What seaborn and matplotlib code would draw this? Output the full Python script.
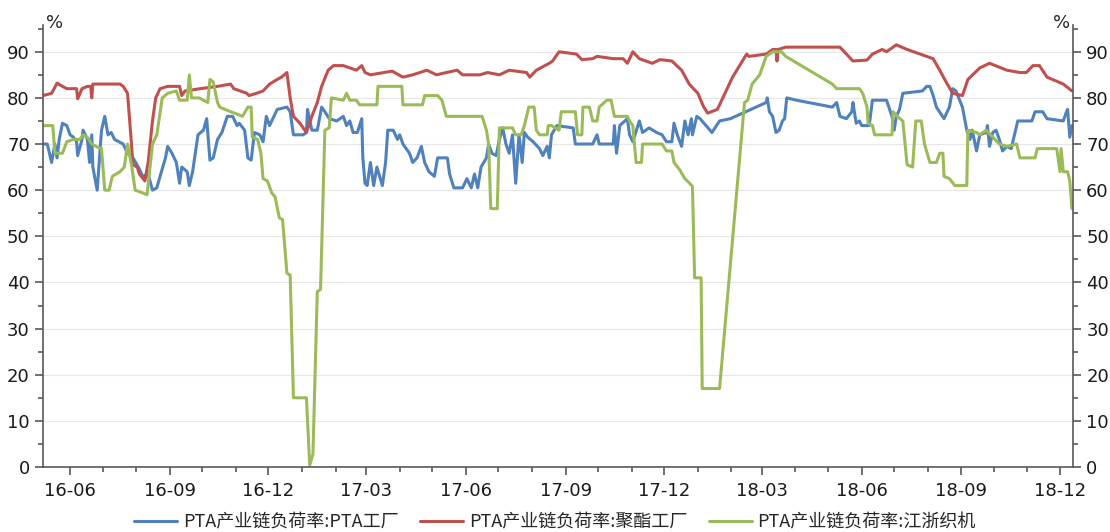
import pandas as pd
import matplotlib
matplotlib.use('Agg')
import matplotlib.pyplot as plt
import matplotlib.dates as mdates
from matplotlib.ticker import MultipleLocator
import seaborn as sns

# 聚酯工厂
red_dates = ['2016-05-07', '2016-05-15', '2016-05-20', '2016-05-25', '2016-05-29', '2016-06-07', '2016-06-08',
             '2016-06-12', '2016-06-17', '2016-06-20', '2016-06-21', '2016-06-22', '2016-06-29', '2016-07-17',
             '2016-07-20', '2016-07-24', '2016-07-27', '2016-07-29', '2016-08-02', '2016-08-04', '2016-08-09',
             '2016-08-12', '2016-08-16', '2016-08-19', '2016-08-23', '2016-08-30', '2016-09-10', '2016-09-12',
             '2016-09-15', '2016-09-29', '2016-10-15', '2016-10-27', '2016-10-30', '2016-11-11', '2016-11-13',
             '2016-11-20', '2016-11-26', '2016-12-02', '2016-12-09', '2016-12-13', '2016-12-18', '2016-12-21',
             '2016-12-24', '2016-12-30', '2017-01-05', '2017-01-10', '2017-01-15', '2017-01-19', '2017-01-25',
             '2017-01-30', '2017-02-08', '2017-02-14', '2017-02-20', '2017-02-25', '2017-02-28', '2017-03-05',
             '2017-03-25', '2017-04-04', '2017-04-13', '2017-04-26', '2017-05-05', '2017-05-14', '2017-05-24',
             '2017-05-29', '2017-06-14', '2017-06-21', '2017-07-02', '2017-07-11', '2017-07-27', '2017-07-30',
             '2017-08-05', '2017-08-17', '2017-08-20', '2017-08-26', '2017-09-11', '2017-09-16', '2017-09-26',
             '2017-09-30', '2017-10-15', '2017-10-24', '2017-10-28', '2017-11-02', '2017-11-08', '2017-11-20',
             '2017-11-27', '2017-12-08', '2017-12-17', '2017-12-24', '2018-01-01', '2018-01-06', '2018-01-10',
             '2018-01-19', '2018-01-24', '2018-01-31', '2018-02-02', '2018-02-15', '2018-02-17', '2018-03-05',
             '2018-03-11', '2018-03-14', '2018-03-15', '2018-03-16', '2018-03-23', '2018-05-12', '2018-05-18',
             '2018-05-24', '2018-06-06', '2018-06-11', '2018-06-20', '2018-06-24', '2018-07-03', '2018-07-13',
             '2018-07-25', '2018-08-06', '2018-08-12', '2018-08-19', '2018-08-24', '2018-09-02', '2018-09-07',
             '2018-09-18', '2018-09-27', '2018-10-13', '2018-10-25', '2018-10-31', '2018-11-06', '2018-11-12',
             '2018-11-19', '2018-11-24', '2018-12-04', '2018-12-12']
red_vals = [80.5, 81, 83.2, 82.5, 82, 82, 79.8,
            82, 82.5, 82.5, 80, 83, 83, 83,
            82.5, 81, 72, 65.5, 65, 63.5, 62,
            66, 75, 80, 82, 82.5, 82.5, 80.5,
            81.5, 82, 82.5, 83, 82, 81, 80.5,
            81, 81.5, 83, 84, 84.5, 85.5, 80,
            76, 74.5, 72.5, 76, 79, 82.5, 86,
            87, 87, 86.5, 86, 87, 85.5, 85,
            85.8, 84.5, 85, 86, 85, 85.5, 86,
            85, 85, 85.5, 85, 86, 85.5, 84.5,
            86, 87.5, 88, 90, 89.5, 88.3, 88.5,
            89, 88.5, 88.5, 87.5, 90, 88.5, 87.5,
            88.3, 88, 86, 83, 81, 78.2, 76.7,
            77.5, 80, 83.5, 84.5, 89.5, 89, 89.5,
            90.5, 90.5, 88, 90.5, 91, 91, 89.5,
            88, 88.2, 89.5, 90.5, 90, 91.5, 90.5,
            89.5, 88.5, 86, 83, 81, 80.5, 84,
            86.5, 87.5, 86, 85.5, 85.5, 87, 87,
            84.5, 84, 83, 81.5]

# PTA工厂
blue_dates = ['2016-05-07', '2016-05-11', '2016-05-15', '2016-05-18', '2016-05-20', '2016-05-22', '2016-05-25',
              '2016-05-29', '2016-06-01', '2016-06-04', '2016-06-07', '2016-06-08', '2016-06-12', '2016-06-13',
              '2016-06-17', '2016-06-19', '2016-06-21', '2016-06-22', '2016-06-26', '2016-06-30', '2016-07-03',
              '2016-07-06', '2016-07-09', '2016-07-12', '2016-07-20', '2016-07-24', '2016-07-29', '2016-08-03',
              '2016-08-07', '2016-08-12', '2016-08-16', '2016-08-20', '2016-08-23', '2016-08-28', '2016-08-30',
              '2016-09-03', '2016-09-07', '2016-09-10', '2016-09-12', '2016-09-17', '2016-09-19', '2016-09-22',
              '2016-09-27', '2016-10-02', '2016-10-05', '2016-10-08', '2016-10-11', '2016-10-15', '2016-10-19',
              '2016-10-24', '2016-10-29', '2016-11-02', '2016-11-04', '2016-11-09', '2016-11-12', '2016-11-15',
              '2016-11-18', '2016-11-23', '2016-11-26', '2016-11-29', '2016-12-02', '2016-12-05', '2016-12-09',
              '2016-12-18', '2016-12-21', '2016-12-24', '2017-01-02', '2017-01-05', '2017-01-06', '2017-01-10',
              '2017-01-15', '2017-01-19', '2017-01-22', '2017-01-26', '2017-02-02', '2017-02-08', '2017-02-11',
              '2017-02-14', '2017-02-17', '2017-02-21', '2017-02-25', '2017-02-26', '2017-02-28', '2017-03-02',
              '2017-03-05', '2017-03-08', '2017-03-11', '2017-03-16', '2017-03-19', '2017-03-21', '2017-03-26',
              '2017-03-30', '2017-04-01', '2017-04-04', '2017-04-10', '2017-04-13', '2017-04-17', '2017-04-21',
              '2017-04-24', '2017-04-28', '2017-05-03', '2017-05-06', '2017-05-15', '2017-05-17', '2017-05-21',
              '2017-05-29', '2017-06-02', '2017-06-06', '2017-06-09', '2017-06-12', '2017-06-15', '2017-06-20',
              '2017-06-22', '2017-06-25', '2017-06-29', '2017-07-02', '2017-07-05', '2017-07-08', '2017-07-11',
              '2017-07-14', '2017-07-17', '2017-07-20', '2017-07-23', '2017-07-25', '2017-07-28', '2017-08-02',
              '2017-08-08', '2017-08-11', '2017-08-15', '2017-08-17', '2017-08-19', '2017-08-24', '2017-09-08',
              '2017-09-10', '2017-09-26', '2017-09-30', '2017-10-02', '2017-10-15', '2017-10-16', '2017-10-18',
              '2017-10-21', '2017-10-28', '2017-10-30', '2017-11-02', '2017-11-08', '2017-11-11', '2017-11-17',
              '2017-11-24', '2017-11-29', '2017-12-03', '2017-12-08', '2017-12-10', '2017-12-13', '2017-12-17',
              '2017-12-20', '2017-12-23', '2017-12-26', '2017-12-27', '2017-12-31', '2018-01-03', '2018-01-14',
              '2018-01-21', '2018-01-31', '2018-03-05', '2018-03-06', '2018-03-08', '2018-03-11', '2018-03-14',
              '2018-03-17', '2018-03-20', '2018-03-22', '2018-03-24', '2018-04-02', '2018-05-05', '2018-05-09',
              '2018-05-12', '2018-05-18', '2018-05-23', '2018-05-24', '2018-05-27', '2018-05-30', '2018-06-01',
              '2018-06-08', '2018-06-11', '2018-06-24', '2018-06-29', '2018-07-01', '2018-07-03', '2018-07-06',
              '2018-07-09', '2018-07-27', '2018-07-31', '2018-08-03', '2018-08-06', '2018-08-09', '2018-08-16',
              '2018-08-21', '2018-08-24', '2018-08-27', '2018-09-02', '2018-09-06', '2018-09-09', '2018-09-11',
              '2018-09-15', '2018-09-18', '2018-09-24', '2018-09-25', '2018-09-27', '2018-09-30', '2018-10-03',
              '2018-10-06', '2018-10-09', '2018-10-13', '2018-10-17', '2018-10-20', '2018-10-23', '2018-11-05',
              '2018-11-08', '2018-11-15', '2018-11-19', '2018-12-04', '2018-12-07', '2018-12-08', '2018-12-10',
              '2018-12-12']
blue_vals = [70, 70, 66, 70, 67, 71, 74.5,
             74, 72, 71.5, 70.5, 67.5, 71, 73,
             71, 66, 72, 65, 60, 73, 76,
             72, 72.5, 71, 70, 68, 67, 65,
             63, 63.5, 60, 60.5, 63, 67, 69.5,
             68, 66, 61.5, 65, 64, 61, 64,
             72, 73, 75.5, 66.5, 67, 71, 72.5,
             76, 76, 74, 74.5, 73, 67, 66.5,
             72.5, 72, 70.5, 76, 74, 75.5, 77.5,
             78, 77, 72, 72, 72.5, 77.5, 73,
             73, 78, 77, 75.5, 75, 76, 74,
             75, 72.5, 72.5, 75.5, 67, 61.5, 61,
             66, 61, 65, 61, 66, 73, 73,
             71, 72, 70, 68, 66, 67, 69.5,
             66, 64, 63, 67, 67, 63.5, 60.5,
             60.5, 62.5, 60.5, 63.5, 60.5, 65, 67,
             70, 68, 67.5, 71, 73.5, 70, 68,
             72, 61.5, 72, 66, 72.5, 71.5, 70.5,
             69, 67.5, 69.5, 67, 72, 74, 73.5,
             70, 70, 72, 70, 70, 74, 68,
             74, 75.5, 72, 70.5, 75, 72.5, 73.5,
             72.5, 72, 70.5, 70.5, 74.5, 72, 69.5,
             75, 72, 75.5, 72, 76, 75.5, 72.5,
             75, 75.5, 79, 80, 77, 76, 72.5,
             73, 75, 75.5, 80, 79.5, 78, 79,
             76, 75.5, 77, 79, 74.5, 75, 74,
             74, 79.5, 79.5, 76, 73, 76, 77.5,
             81, 81.5, 82.5, 82.5, 80.5, 78, 75.5,
             78, 82, 81.5, 78, 73, 71, 73,
             68.5, 72, 72.5, 74, 69.5, 72.5, 73,
             71, 68.5, 69.5, 69, 72, 75, 75,
             77, 77, 75.5, 75, 77, 77.5, 71.5,
             74]

# 江浙织机
green_dates = ['2016-05-07', '2016-05-16', '2016-05-18', '2016-05-25', '2016-05-29', '2016-06-04', '2016-06-10',
               '2016-06-13', '2016-06-17', '2016-06-21', '2016-06-29', '2016-06-30', '2016-07-03', '2016-07-07',
               '2016-07-10', '2016-07-17', '2016-07-21', '2016-07-24', '2016-07-28', '2016-07-31', '2016-08-06',
               '2016-08-11', '2016-08-16', '2016-08-20', '2016-08-25', '2016-08-30', '2016-09-07', '2016-09-10',
               '2016-09-17', '2016-09-19', '2016-09-21', '2016-09-28', '2016-10-06', '2016-10-08', '2016-10-11',
               '2016-10-15', '2016-10-17', '2016-10-27', '2016-11-02', '2016-11-07', '2016-11-12', '2016-11-15',
               '2016-11-16', '2016-11-21', '2016-11-24', '2016-11-26', '2016-11-30', '2016-12-04', '2016-12-07',
               '2016-12-11', '2016-12-14', '2016-12-18', '2016-12-21', '2016-12-24', '2017-01-05', '2017-01-08',
               '2017-01-11', '2017-01-15', '2017-01-18', '2017-01-22', '2017-01-26', '2017-01-28', '2017-02-08',
               '2017-02-11', '2017-02-14', '2017-02-20', '2017-02-23', '2017-03-11', '2017-03-12', '2017-04-03',
               '2017-04-04', '2017-04-22', '2017-04-24', '2017-05-06', '2017-05-10', '2017-05-14', '2017-06-16',
               '2017-06-20', '2017-06-22', '2017-06-24', '2017-06-30', '2017-07-02', '2017-07-14', '2017-07-17',
               '2017-07-22', '2017-07-25', '2017-07-29', '2017-08-03', '2017-08-05', '2017-08-08', '2017-08-15',
               '2017-08-16', '2017-08-19', '2017-08-26', '2017-08-28', '2017-09-10', '2017-09-12', '2017-09-16',
               '2017-09-17', '2017-09-23', '2017-09-26', '2017-09-30', '2017-10-02', '2017-10-09', '2017-10-13',
               '2017-10-16', '2017-10-28', '2017-10-30', '2017-11-02', '2017-11-05', '2017-11-10', '2017-11-11',
               '2017-11-29', '2017-12-03', '2017-12-08', '2017-12-10', '2017-12-15', '2017-12-20', '2017-12-24',
               '2017-12-27', '2017-12-29', '2018-01-04', '2018-01-05', '2018-01-21', '2018-02-13', '2018-02-16',
               '2018-02-20', '2018-02-27', '2018-03-05', '2018-03-11', '2018-03-19', '2018-03-23', '2018-05-05',
               '2018-05-09', '2018-05-30', '2018-06-02', '2018-06-06', '2018-06-07', '2018-06-11', '2018-06-13',
               '2018-06-29', '2018-06-30', '2018-07-04', '2018-07-09', '2018-07-13', '2018-07-18', '2018-07-21',
               '2018-07-26', '2018-07-29', '2018-08-03', '2018-08-09', '2018-08-12', '2018-08-15', '2018-08-16',
               '2018-08-21', '2018-08-26', '2018-09-06', '2018-09-07', '2018-09-15', '2018-09-18', '2018-09-24',
               '2018-09-30', '2018-10-06', '2018-10-13', '2018-10-22', '2018-10-25', '2018-11-08', '2018-11-10',
               '2018-11-28', '2018-12-01', '2018-12-02', '2018-12-04', '2018-12-08', '2018-12-10', '2018-12-12']
green_vals = [74, 74, 68, 68, 70.5, 71, 71,
              72, 71.5, 70, 69, 69, 60, 60,
              63, 64, 65, 70, 65, 60, 59.5,
              59, 70, 72, 80, 81, 81.5, 79.5,
              79.5, 85, 80, 80, 79, 84, 83.5,
              79, 78, 77, 76.5, 76, 78, 78,
              71.5, 71, 68, 62.5, 62, 59.4, 58.6,
              54, 53.6, 42, 41.6, 15, 15, 0.4,
              2.8, 38, 38.5, 73, 73.5, 80, 79.5,
              81, 79.5, 79.5, 78.5, 78.5, 82.5, 82.5,
              78.5, 78.5, 80.5, 80.5, 79.5, 76, 76,
              73, 70, 56, 56, 73.5, 73.5, 72,
              72, 74, 78, 78, 73, 72, 72,
              74, 74, 73, 77, 77, 72, 72,
              78, 78, 75, 75, 78, 79.5, 79.5,
              76, 76, 75, 74, 66, 66, 70,
              70, 68.5, 68.5, 66, 64.5, 62.5, 61.6,
              60.8, 41, 41, 17, 17, 79, 79.5,
              83, 85, 89, 90, 90, 89, 83,
              82, 82, 81, 78, 74.5, 74, 72,
              72, 77, 76, 75, 65.5, 65, 75,
              75, 70, 66, 66, 68, 68, 63,
              62.5, 61, 61, 73, 72.5, 72, 73,
              71.5, 70, 69.5, 70, 67, 67, 69,
              69, 64, 69, 64, 64, 62, 56]

series_names = ['PTA产业链负荷率:PTA工厂', 'PTA产业链负荷率:聚酯工厂', 'PTA产业链负荷率:江浙织机']
series_colors = ['#4F81BD', '#C0504D', '#9BBB59']

sns.set_style('white')
plt.rcParams['font.family'] = ['Noto Sans CJK SC', 'DejaVu Sans']

fig = plt.figure(figsize=(11.1, 5.32), dpi=100)
ax = fig.add_axes([0.0387, 0.1222, 0.9280, 0.8308])

all_series = [(blue_dates, blue_vals), (red_dates, red_vals), (green_dates, green_vals)]
for (d, v), name, col in zip(all_series, series_names, series_colors):
    df = pd.DataFrame({'date': pd.to_datetime(d), 'value': v})
    sns.lineplot(data=df, x='date', y='value', ax=ax, color=col, linewidth=2.2,
                 label=name, estimator=None)

ax.set_xlim(pd.Timestamp('2016-05-07'), pd.Timestamp('2018-12-13'))
ax.set_ylim(0, 95.8)
ax.yaxis.set_major_locator(MultipleLocator(10))
ax.yaxis.set_minor_locator(MultipleLocator(5))
ax.xaxis.set_major_locator(mdates.MonthLocator(bymonth=[3, 6, 9, 12]))
ax.xaxis.set_minor_locator(mdates.MonthLocator())
ax.xaxis.set_major_formatter(mdates.DateFormatter('%y-%m'))
ax.set_xlabel('')
ax.set_ylabel('')
ax.grid(axis='y', color='#e6e6e6', linewidth=0.8)
ax.set_axisbelow(True)

axis_col = '#595959'
for side in ['left', 'right', 'bottom']:
    ax.spines[side].set_color(axis_col)
    ax.spines[side].set_linewidth(1.2)
ax.spines['top'].set_visible(False)

ax.tick_params(axis='both', which='major', direction='out', length=6, width=1.2,
               color=axis_col, labelsize=13, labelcolor='#1a1a1a', left=True, bottom=True)
ax.tick_params(axis='both', which='minor', direction='out', length=3.5, width=1.2,
               color=axis_col, left=True, bottom=True)
ax.tick_params(axis='x', pad=5)

ax2 = ax.twinx()
ax2.set_ylim(ax.get_ylim())
ax2.yaxis.set_major_locator(MultipleLocator(10))
ax2.yaxis.set_minor_locator(MultipleLocator(5))
for side in ['left', 'right', 'bottom', 'top']:
    ax2.spines[side].set_visible(False)
ax2.tick_params(axis='y', which='major', direction='out', length=6, width=1.2,
                color=axis_col, labelsize=13, labelcolor='#1a1a1a', right=True)
ax2.tick_params(axis='y', which='minor', direction='out', length=3.5, width=1.2,
                color=axis_col, right=True)

for lab in ax.get_xticklabels() + ax.get_yticklabels() + ax2.get_yticklabels():
    lab.set_fontfamily('DejaVu Sans')

ax.text(0.003, 1.005, '%', transform=ax.transAxes, fontsize=13, ha='left', va='center',
        family='DejaVu Sans')
ax.text(0.997, 1.005, '%', transform=ax.transAxes, fontsize=13, ha='right', va='center',
        family='DejaVu Sans')

handles, labels = ax.get_legend_handles_labels()
ax.get_legend().remove()
fig.legend(handles, labels, loc='lower center', bbox_to_anchor=(0.5, -0.03), ncol=3,
           frameon=False, fontsize=13, handlelength=2.4, columnspacing=1.2, handletextpad=0.3)

fig.savefig('out.png', dpi=100)
